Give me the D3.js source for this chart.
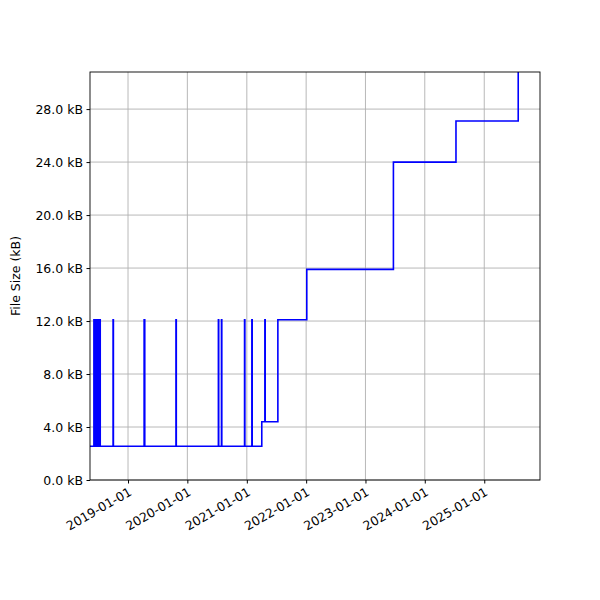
<!DOCTYPE html>
<html><head><meta charset="utf-8">
<script src="https://cdn.jsdelivr.net/npm/d3@7"></script>
<style>body{margin:0;background:#fff}</style></head>
<body><svg id="c" width="600" height="600"></svg>
<script>
const dates = ["2018-05-12","2018-06-05","2018-06-07","2018-06-10","2018-06-12","2018-06-16","2018-06-18","2018-06-22","2018-06-24","2018-06-28","2018-06-30","2018-07-04","2018-07-06","2018-07-12","2018-07-14","2018-10-01","2018-10-03","2019-04-10","2019-04-14","2019-10-23","2019-10-25","2020-07-10","2020-07-12","2020-07-29","2020-07-31","2020-12-18","2020-12-20","2021-02-01","2021-02-03","2021-04-03","2021-04-22","2021-04-24","2021-07-11","2022-01-05","2023-06-22","2024-07-11","2025-07-29"];
const values = [2.55,12.1,2.55,12.1,2.55,12.1,2.55,12.1,2.55,12.1,2.55,12.1,2.55,12.1,2.55,12.1,2.55,12.1,2.55,12.1,2.55,12.1,2.55,12.1,2.55,12.1,2.55,12.1,2.55,4.4,12.1,4.4,12.1,15.9,24.0,27.1,33];
const yTicks = [0,4,8,12,16,20,24,28];
const xTickLabels = ["2019-01-01","2020-01-01","2021-01-01","2022-01-01","2023-01-01","2024-01-01","2025-01-01"];

const svg = d3.select("#c");
const L=90,R=540,T=72,B=480;
const p = d3.timeParse("%Y-%m-%d");
const x = d3.scaleTime().domain([p("2018-05-12"),p("2025-12-10")]).range([L,R]);
const y = d3.scaleLinear().domain([0,30.8]).range([B,T]);
const font="DejaVu Sans";

svg.append("g").selectAll("line").data(xTickLabels).join("line")
 .attr("x1",d=>x(p(d))).attr("x2",d=>x(p(d))).attr("y1",T).attr("y2",B).attr("stroke","#b0b0b0").attr("stroke-width",0.9);
svg.append("g").selectAll("line").data(yTicks).join("line")
 .attr("y1",d=>y(d)).attr("y2",d=>y(d)).attr("x1",L).attr("x2",R).attr("stroke","#b0b0b0").attr("stroke-width",0.9);

svg.append("defs").append("clipPath").attr("id","cp").append("rect").attr("x",L).attr("y",T).attr("width",R-L).attr("height",B-T);
const pts = dates.map((d,i)=>[p(d),values[i]]);
svg.append("path").datum(pts).attr("clip-path","url(#cp)")
 .attr("d",d3.line().x(d=>x(d[0])).y(d=>y(d[1])).curve(d3.curveStepAfter))
 .attr("fill","none").attr("stroke","#0000ff").attr("stroke-width",1.6);

const ya = svg.append("g").attr("transform",`translate(${L},0)`)
 .call(d3.axisLeft(y).tickValues(yTicks).tickFormat(d=>d.toFixed(1)+" kB").tickSize(3.5).tickPadding(3.5));
const xa = svg.append("g").attr("transform",`translate(0,${B})`)
 .call(d3.axisBottom(x).tickValues(xTickLabels.map(p)).tickFormat(d3.timeFormat("%Y-%m-%d")).tickSize(3.5).tickPadding(3.5));
xa.selectAll("text").attr("text-anchor","end").attr("transform","rotate(-30)").attr("dx","-0.3em").attr("dy","0.6em");
[ya,xa].forEach(a=>{a.selectAll("text").attr("font-family",font).attr("font-size",12.5).attr("fill","#000");a.select(".domain").remove();a.selectAll("line").attr("stroke","#000");});
svg.append("rect").attr("x",L).attr("y",T).attr("width",R-L).attr("height",B-T).attr("fill","none").attr("stroke","#000").attr("stroke-width",0.9);
svg.append("text").attr("transform","translate(20,276) rotate(-90)").attr("text-anchor","middle")
 .attr("font-family",font).attr("font-size",12.5).text("File Size (kB)");
</script></body></html>
